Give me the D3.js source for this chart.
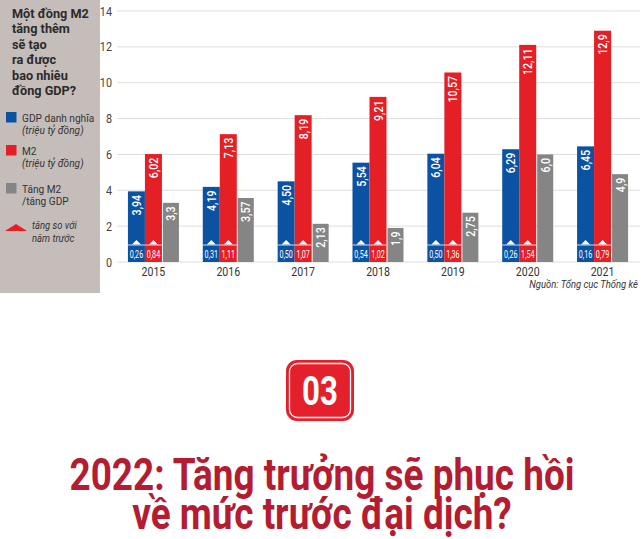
<!DOCTYPE html>
<html>
<head>
<meta charset="utf-8">
<script src="https://cdn.jsdelivr.net/npm/d3@7"></script>
<style>
  html, body { margin: 0; padding: 0; background: #ffffff; }
  svg { display: block; }
</style>
</head>
<body>
<svg id="chart" width="641" height="539"></svg>
<script>
// ---- data ----
const years = ["2015", "2016", "2017", "2018", "2019", "2020", "2021"];
const gdpLabels = ["3,94", "4,19", "4,50", "5,54", "6,04", "6,29", "6,45"];
const m2Labels = ["6,02", "7,13", "8,19", "9,21", "10,57", "12,11", "12,9"];
const ratioLabels = ["3,3", "3,57", "2,13", "1,9", "2,75", "6,0", "4,9"];
const gdpGrowthLabels = ["0,26", "0,31", "0,50", "0,54", "0,50", "0,26", "0,16"];
const m2GrowthLabels = ["0,84", "1,11", "1,07", "1,02", "1,36", "1,54", "0,79"];
const yTicks = [0, 2, 4, 6, 8, 10, 12, 14];
const panelTitle = ["Một đồng M2", "tăng thêm", "sẽ tạo", "ra được", "bao nhiêu", "đồng GDP?"];
const sourceText = "Nguồn: Tổng cục Thống kê";
const badgeText = "03";
const headline = ["2022: Tăng trưởng sẽ phục hồi", "về mức trước đại dịch?"];

const num = s => +s.replace(",", ".");
const gdp = gdpLabels.map(num);
const m2 = m2Labels.map(num);
const ratio = ratioLabels.map(num);

// ---- colours / fonts ----
const BLUE = "#0b52a3", RED = "#e41f26", GRAY = "#858585", PANEL = "#c5bdba";
const SANS = "Roboto, 'Noto Sans', sans-serif";

// squeeze text horizontally to mimic a condensed typeface
function condense(sel, f) {
  sel.each(function () {
    const L = this.getComputedTextLength();
    d3.select(this).attr("textLength", L * f).attr("lengthAdjust", "spacingAndGlyphs");
  });
}

const svg = d3.select("#chart");

// left panel
svg.append("rect").attr("x", 0).attr("y", 0).attr("width", 100).attr("height", 293).attr("fill", PANEL);
svg.append("g").selectAll("text").data(panelTitle).join("text")
  .attr("x", 12).attr("y", (d, i) => 18 + i * 15.4)
  .attr("font-family", SANS).attr("font-weight", 700).attr("font-size", 13.5)
  .attr("fill", "#2b2b2b").text(d => d)
  .call(condense, 0.94);

const legend = svg.append("g").attr("font-family", SANS).attr("fill", "#333");
const legItems = [
  { color: BLUE, y: 112, l1: "GDP danh nghĩa", l2: "(triệu tỷ đồng)", i2: true },
  { color: RED, y: 145, l1: "M2", l2: "(triệu tỷ đồng)", i2: true },
  { color: GRAY, y: 183, l1: "Tăng M2", l2: "/tăng GDP", i2: false }
];
legItems.forEach(it => {
  legend.append("rect").attr("x", 6).attr("y", it.y).attr("width", 10.5).attr("height", 10.5).attr("fill", it.color);
  legend.append("text").attr("x", 22).attr("y", it.y + 9.5).attr("font-size", 11.5).text(it.l1).call(condense, 0.88);
  legend.append("text").attr("x", 22).attr("y", it.y + 22).attr("font-size", 11.5)
    .attr("font-style", it.i2 ? "italic" : "normal").text(it.l2).call(condense, 0.88);
});
legend.append("path").attr("d", "M5,231 L16,224 L27,231 Z").attr("fill", RED);
legend.append("text").attr("x", 32).attr("y", 229).attr("font-size", 10.5).attr("font-style", "italic").text("tăng so với").call(condense, 0.9);
legend.append("text").attr("x", 32).attr("y", 242).attr("font-size", 10.5).attr("font-style", "italic").text("năm trước").call(condense, 0.9);

// ---- scales ----
const x0 = d3.scaleBand().domain(years).range([116, 640]);
const x1 = d3.scaleBand().domain(["gdp", "m2", "ratio"]).range([0, 51]);
const groupOffset = x0.bandwidth() / 2 - 25.5;
const y = d3.scaleLinear().domain([0, 14]).range([262, 11]);

// grid + y labels
const grid = svg.append("g");
grid.selectAll("line").data(yTicks).join("line")
  .attr("x1", 117).attr("x2", 640).attr("y1", d => y(d)).attr("y2", d => y(d))
  .attr("stroke", "#dedede").attr("stroke-width", 1);
grid.selectAll("text").data(yTicks).join("text")
  .attr("x", 112).attr("y", d => y(d) + 4.5).attr("text-anchor", "end")
  .attr("font-family", SANS).attr("font-size", 12).attr("fill", "#444").text(d => d)
  .call(condense, 0.9);

// ---- bars ----
const rows = years.map((yr, i) => ({
  yr,
  bars: [
    { key: "gdp", v: gdp[i], label: gdpLabels[i], color: BLUE, small: gdpGrowthLabels[i] },
    { key: "m2", v: m2[i], label: m2Labels[i], color: RED, small: m2GrowthLabels[i] },
    { key: "ratio", v: ratio[i], label: ratioLabels[i], color: GRAY, small: null }
  ]
}));

const groups = svg.append("g").selectAll("g").data(rows).join("g")
  .attr("transform", d => `translate(${x0(d.yr) + groupOffset},0)`);

const bars = groups.selectAll("g.bar").data(d => d.bars).join("g").attr("class", "bar")
  .attr("transform", d => `translate(${x1(d.key) + (d.key === "ratio" ? 1 : 0)},0)`);
const bw = d => x1.bandwidth() - (d.key === "ratio" ? 1 : 0);

bars.append("rect")
  .attr("x", 0).attr("y", d => y(d.v)).attr("width", bw)
  .attr("height", d => y(0) - y(d.v)).attr("fill", d => d.color);

bars.append("text")
  .attr("transform", d => `translate(${bw(d) / 2 + 4.5},${y(d.v) + 3.5}) rotate(-90)`)
  .attr("text-anchor", "end")
  .attr("font-family", SANS).attr("font-size", 13).attr("font-weight", 500)
  .attr("fill", "#fff").text(d => d.label)
  .call(condense, 0.82);

const sm = bars.filter(d => d.small !== null);
sm.append("line").attr("x1", 0).attr("x2", bw).attr("y1", 245).attr("y2", 245)
  .attr("stroke", "#fff").attr("stroke-width", 0.8);
sm.append("path").attr("d", d => {
  const c = bw(d) / 2;
  return `M${c - 4.5},244.6 L${c},240 L${c + 4.5},244.6 Z`;
}).attr("fill", "#fff");
sm.append("text").attr("x", d => bw(d) / 2).attr("y", 257.5).attr("text-anchor", "middle")
  .attr("font-family", SANS).attr("font-size", 10.5).attr("fill", "#fff").text(d => d.small)
  .call(condense, 0.68);

// x labels
svg.append("g").selectAll("text").data(years).join("text")
  .attr("x", d => x0(d) + x0.bandwidth() / 2).attr("y", 275.5).attr("text-anchor", "middle")
  .attr("font-family", SANS).attr("font-size", 12).attr("fill", "#333").text(d => d)
  .call(condense, 0.88);

// source
svg.append("text").attr("x", 638).attr("y", 288).attr("text-anchor", "end")
  .attr("font-family", SANS).attr("font-style", "italic").attr("font-size", 10.5)
  .attr("fill", "#333").text(sourceText)
  .call(condense, 0.9);

// ---- badge ----
const badge = svg.append("g");
badge.append("rect").attr("x", 286).attr("y", 360).attr("width", 68).attr("height", 61)
  .attr("rx", 11).attr("fill", "#e3202b");
badge.append("rect").attr("x", 289.5).attr("y", 363.5).attr("width", 61).attr("height", 54)
  .attr("rx", 8).attr("fill", "none").attr("stroke", "#fff").attr("stroke-width", 1.3);
badge.append("text").attr("x", 320).attr("y", 405).attr("text-anchor", "middle")
  .attr("font-family", SANS).attr("font-weight", 700).attr("font-size", 40)
  .attr("fill", "#fff").text(badgeText)
  .call(condense, 0.78);

// ---- headline ----
const hl = svg.append("g").selectAll("text").data(headline).join("text")
  .attr("x", 322).attr("y", (d, i) => 490 + i * 39).attr("text-anchor", "middle")
  .attr("font-family", SANS).attr("font-weight", 700).attr("font-size", 44)
  .attr("fill", "#b31c31").text(d => d);
const hlFactor = 505 / hl.node().getComputedTextLength();
hl.call(condense, hlFactor);
</script>
</body>
</html>
